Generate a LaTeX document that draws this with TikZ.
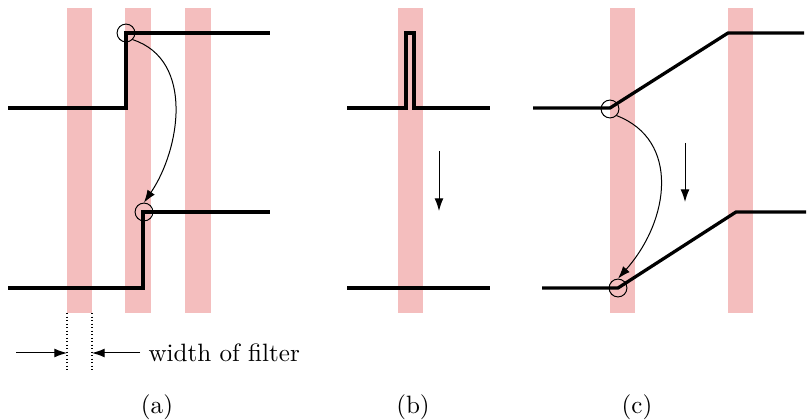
\documentclass[tikz,border=0pt]{standalone}
\usepackage{amsmath,amssymb}
\usepackage{tikz}
\usetikzlibrary{positioning,calc}
\usetikzlibrary{arrows.meta}
\definecolor{FilterPink}{RGB}{244,190,190}
\tikzset{
  band/.style={fill=FilterPink,draw=none},
  signal/.style={draw=black,line width=1.3pt,line join=miter},
  ring/.style={circle,draw=black,line width=0.4pt,inner sep=0pt,minimum size=2.5mm},
  flow/.style={draw=black,line width=0.4pt,-{Latex[length=5pt,width=3.5pt]}},
}
\tikzset{guide/.style={draw=black,line width=0.4pt,densely dotted}, sublabel/.style={font=\normalsize}}

\begin{document}
\begin{tikzpicture}[x=0.014cm,y=-0.014cm]
\useasboundingbox (0,0) rectangle (808,420);
% filter bands
\fill[band] (67,8) rectangle (92,313);
\fill[band] (125,8) rectangle (151,313);
\fill[band] (185,8) rectangle (211,313);
\fill[band] (398,8) rectangle (423,313);
\fill[band] (610,8) rectangle (635,313);
\fill[band] (728,8) rectangle (753,313);
% (a)
\draw[signal] (8,108)--(126,108)--(126,33)--(270,33);
\draw[signal] (8,288)--(143,288)--(143,212)--(270,212);
\node[ring] (ta) at (126,33) {};
\node[ring] (ba) at (144,212) {};
\draw[flow] (ta.south east) .. controls (195,60) and (180,150) .. (ba.north);
% width of filter
\coordinate (wl) at (67,353);
\coordinate (wr) at (92,353);
\coordinate (wls) at (16,353);
\coordinate (wrs) at (140,353);
\draw[guide] (67,313)--(67,372);
\draw[guide] (92,313)--(92,372);
\draw[flow] (wls)--(wl);
\draw[flow] (wrs)--(wr);
\node[anchor=west,inner sep=0pt] (wtext) at (148,353) {width of filter};
\node[sublabel] (capa) at (157,407) {(a)};
% (b)
\draw[signal] (347,108)--(406,108)--(406,33)--(414,33)--(414,108)--(490,108);
\draw[signal] (347,288)--(490,288);
\coordinate (db1) at (439,151);
\coordinate (db2) at (439,211);
\draw[flow] (db1)--(db2);
\node[sublabel] (capb) at (413,407) {(b)};
% (c)
\draw[signal] (533,108)--(610,108)--(728,33)--(804,33);
\draw[signal] (542,288)--(618,288)--(736,212)--(806,212);
\node[ring] (tc) at (610,109) {};
\node[ring] (bc) at (618,288) {};
\draw[flow] (tc.south east) .. controls (680,140) and (670,220) .. (bc.north);
\coordinate (dc1) at (685,143);
\coordinate (dc2) at (685,202);
\draw[flow] (dc1)--(dc2);
\node[sublabel] (capc) at (637,407) {(c)};
\end{tikzpicture}
\end{document}
